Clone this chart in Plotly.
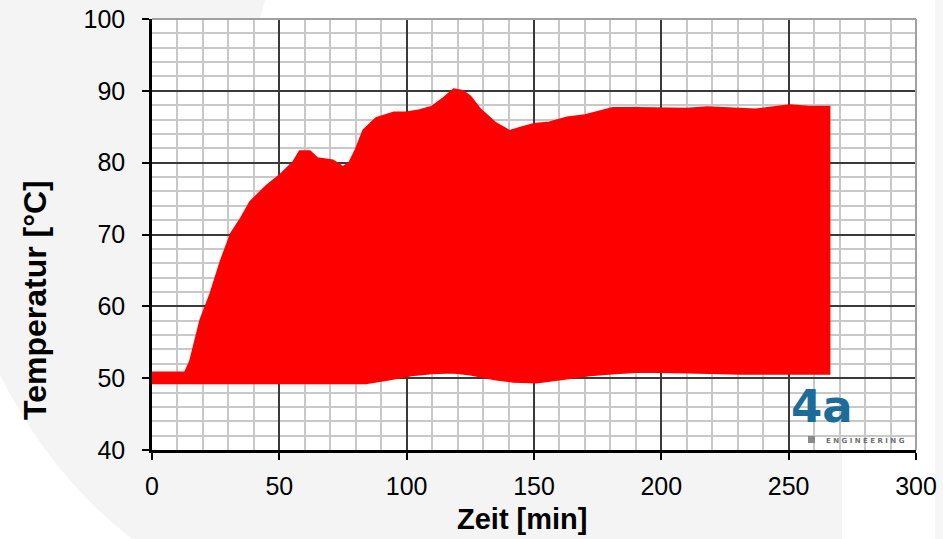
import plotly.graph_objects as go

# ---- data ----
time_upper = [0, 13, 15, 19, 23, 27, 31, 35, 38.5, 45, 50, 55.5, 58, 62, 65, 71, 75, 77.5,
              80, 83, 88, 95, 100, 105, 110, 114.5, 118.5, 122, 125, 129, 135, 140.5, 145,
              150, 156, 163, 170, 175, 181, 190, 200, 210, 218, 228, 237, 244, 250.5, 258, 266]
temp_upper = [50.8, 50.8, 52.4, 58.1, 61.8, 66.3, 70.1, 72.3, 74.5, 76.8, 78.2, 80.1, 81.6,
              81.6, 80.6, 80.3, 79.4, 80.0, 81.8, 84.5, 86.2, 87.0, 87.0, 87.3, 87.8, 89.0,
              90.2, 90.0, 89.2, 87.4, 85.5, 84.4, 84.9, 85.4, 85.6, 86.3, 86.6, 87.1, 87.6,
              87.6, 87.6, 87.5, 87.7, 87.5, 87.4, 87.7, 88.0, 87.8, 87.8]
time_lower = [0, 13, 40, 60, 84, 93, 102, 110, 118, 125, 135, 142, 151, 160, 172, 182, 192,
              210, 231, 250, 266]
temp_lower = [49.3, 49.3, 49.3, 49.3, 49.3, 49.8, 50.4, 50.7, 50.8, 50.5, 49.8, 49.5, 49.4,
              49.8, 50.4, 50.7, 50.9, 50.8, 50.6, 50.6, 50.6]

x_ticks = [0, 50, 100, 150, 200, 250, 300]
y_ticks = [40, 50, 60, 70, 80, 90, 100]
x_title = "Zeit [min]"
y_title = "Temperatur [°C]"

# ---- layout geometry (pixels) ----
W, H = 943, 539
L, R, T, B = 152, 27, 19, 89
PW, PH = W - L - R, H - T - B


def px(x):
    return (x - L) / PW


def py(y):
    return (H - B - y) / PH


RED = "#ff0000"
fig = go.Figure()

band_x = time_upper + time_lower[::-1]
band_y = temp_upper + temp_lower[::-1]
fig.add_trace(go.Scatter(
    x=band_x, y=band_y, mode="lines", fill="toself", fillcolor=RED,
    line=dict(color=RED, width=2), hoverinfo="skip", showlegend=False,
))

font_family = "Liberation Sans, Arial, sans-serif"

shapes = [
    # white background region (top/right of slide)
    dict(type="path", xref="paper", yref="paper", layer="below",
         path=(f"M {px(265)},{py(0)} L {px(943)},{py(0)} L {px(943)},{py(539)} "
               f"L {px(842)},{py(539)} L {px(842)},{py(452)} L {px(160)},{py(452)} "
               f"L {px(160)},{py(25)} L {px(258)},{py(25)} Z"),
         fillcolor="#ffffff", line=dict(width=0)),
    dict(type="rect", xref="paper", yref="paper", layer="below",
         x0=px(935), x1=px(943), y0=py(0), y1=py(539),
         fillcolor="#f6f6f6", line=dict(width=0)),
    # white lower-left corner
    dict(type="path", xref="paper", yref="paper", layer="below",
         path=(f"M {px(0)},{py(375)} Q {px(50)},{py(475)} {px(132)},{py(539)} "
               f"L {px(0)},{py(539)} Z"),
         fillcolor="#ffffff", line=dict(width=0)),
    # gray top and right frame lines
    dict(type="line", xref="paper", yref="paper", x0=0, x1=1, y0=1, y1=1,
         line=dict(color="#a0a0a0", width=2)),
    dict(type="line", xref="paper", yref="paper", x0=1, x1=1, y0=0, y1=1,
         line=dict(color="#a0a0a0", width=2)),
    # logo small square
    dict(type="rect", xref="paper", yref="paper",
         x0=px(808), x1=px(815), y0=py(443), y1=py(436),
         fillcolor="#8a8a8a", line=dict(width=0)),
]

annotations = [
    dict(text="<b>4a</b>", xref="paper", yref="paper", x=px(822), y=py(435),
         xanchor="center", yanchor="bottom", showarrow=False,
         font=dict(family="DejaVu Sans, sans-serif", size=45, color="#1c6b98")),
    dict(text="<b>E N G I N E E R I N G</b>", xref="paper", yref="paper",
         x=px(865), y=py(441), xanchor="center", yanchor="middle", showarrow=False,
         font=dict(family="DejaVu Sans, sans-serif", size=7, color="#6e6e6e")),
    dict(text=f"<b>{x_title}</b>", xref="paper", yref="paper", x=px(522), y=py(519),
         xanchor="center", yanchor="middle", showarrow=False,
         font=dict(family=font_family, size=29, color="#000000")),
    dict(text=f"<b>{y_title}</b>", xref="paper", yref="paper", x=px(35), y=py(300),
         xanchor="center", yanchor="middle", showarrow=False, textangle=-90,
         font=dict(family=font_family, size=32, color="#000000")),
]

fig.update_layout(
    width=W, height=H,
    margin=dict(l=L, r=R, t=T, b=B, autoexpand=False),
    paper_bgcolor="#f4f4f4",
    plot_bgcolor="#ffffff",
    showlegend=False,
    shapes=shapes,
    annotations=annotations,
    font=dict(family=font_family, size=25, color="#000000"),
)

fig.update_xaxes(
    range=[0, 300], tickvals=x_ticks, ticktext=[str(v) for v in x_ticks],
    showline=True, linecolor="#000000", linewidth=2.5, automargin=False,
    ticks="outside", ticklen=7, tickwidth=2, tickcolor="#000000",
    ticklabelstandoff=5,
    showgrid=True, gridcolor="#3a3a3a", gridwidth=1.5,
    minor=dict(dtick=10, tick0=0, showgrid=True, gridcolor="#c8c8c8", gridwidth=1.5),
    zeroline=False,
    tickfont=dict(family=font_family, size=25, color="#000000"),
)
fig.update_yaxes(
    range=[40, 100], tickvals=y_ticks, ticktext=[str(v) for v in y_ticks],
    showline=True, linecolor="#000000", linewidth=2.5, automargin=False,
    ticks="outside", ticklen=7, tickwidth=2, tickcolor="#000000",
    ticklabelstandoff=12,
    showgrid=True, gridcolor="#3a3a3a", gridwidth=1.5,
    minor=dict(dtick=2, tick0=40, showgrid=True, gridcolor="#c8c8c8", gridwidth=1.5),
    zeroline=False,
    tickfont=dict(family=font_family, size=25, color="#000000"),
)

fig.write_html(
    "out.html",
    config={"displayModeBar": False},
    post_script="document.body.style.margin='0';document.body.style.overflow='hidden';",
)
